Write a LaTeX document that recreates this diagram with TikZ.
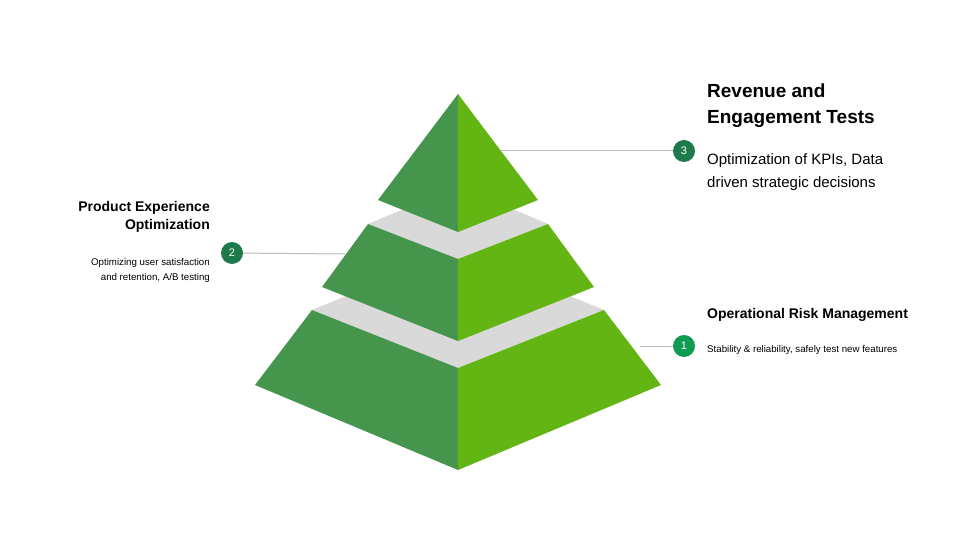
\documentclass[tikz,border=0pt]{standalone}
\usepackage{fontspec}
\setmainfont{Liberation Sans}
\definecolor{dg}{HTML}{45964C}
\definecolor{lg}{HTML}{63B514}
\definecolor{gr}{HTML}{D9D9D9}
\definecolor{ln}{HTML}{BBBBBB}
\definecolor{c3}{HTML}{1E7A4B}
\definecolor{c1}{HTML}{109A52}
\tikzset{num/.style={circle,minimum size=22pt,inner sep=0pt,text=white,font=\fontsize{11}{12}\selectfont},
lead/.style={draw=ln,line width=1pt},
ttl/.style={inner sep=0pt},
body/.style={inner sep=0pt}}
\begin{document}
\begin{tikzpicture}[x=1pt,y=-1pt]
\useasboundingbox (0,0) rectangle (960,540);
\fill[white] (0,0) rectangle (960,540);
% gray bands
\fill[gr] (368,224)--(458,186)--(548,224)--(458,259)--cycle;
\fill[gr] (312,310)--(458,250)--(604,310)--(458,368)--cycle;
% top
\fill[dg] (458,94)--(378,200)--(458,232)--cycle;
\fill[lg] (458,94)--(538,200)--(458,232)--cycle;
% mid
\fill[dg] (368,224)--(322,287)--(458,341)--(458,259)--cycle;
\fill[lg] (548,224)--(594,287)--(458,341)--(458,259)--cycle;
% bottom
\fill[dg] (312,310)--(255,385)--(458,470)--(458,368)--cycle;
\fill[lg] (604,310)--(661,385)--(458,470)--(458,368)--cycle;
% connectors
\coordinate (p3) at (500,151);
\coordinate (p2) at (345,254);
\coordinate (p1) at (640,346);
\node[num,fill=c3] (n3) at (684,151) {3};
\node[num,fill=c3] (n2) at (232,253) {2};
\node[num,fill=c1] (n1) at (684,346) {1};
\draw[lead] (p3)--(n3);
\draw[lead] (n2)--(p2);
\draw[lead] (p1)--(n1);
% texts
\node[ttl,anchor=north west,align=left,font=\bfseries\fontsize{19}{26}\selectfont] (t3) at (707,84) {Revenue and\\Engagement Tests};
\node[body,anchor=north west,align=left,font=\fontsize{15}{23}\selectfont] (b3) at (707,153) {Optimization of KPIs, Data\\driven strategic decisions};
\node[ttl,anchor=north east,align=right,font=\bfseries\fontsize{14}{18.5}\selectfont] (t2) at (210,201) {Product Experience\\Optimization};
\node[body,anchor=north east,align=right,font=\fontsize{9.7}{15}\selectfont] (b2) at (210,258) {Optimizing user satisfaction\\and retention, A/B testing};
\node[ttl,anchor=north west,font=\bfseries\fontsize{14}{18.5}\selectfont] (t1) at (707,308) {Operational Risk Management};
\node[body,anchor=north west,font=\fontsize{9.7}{15}\selectfont] (b1) at (707,345) {Stability \& reliability, safely test new features};
\end{tikzpicture}
\end{document}
